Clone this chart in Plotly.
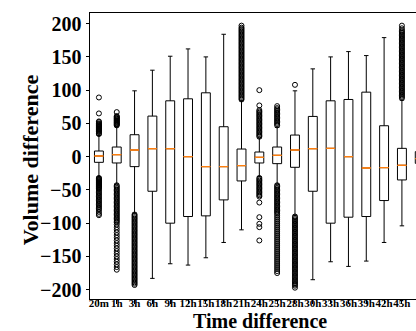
import plotly.graph_objects as go

# ---------------- data ----------------
categories = ["20m", "1h", "3h", "6h", "9h", "12h", "15h", "18h", "21h", "24h",
              "25h", "28h", "30h", "33h", "36h", "39h", "42h", "45h", "48h"]

q1_vals     = [-8.5, -9.5, -15, -52, -100, -90, -89, -65, -36.5, -9.5,
               -10.5, -16, -52, -100, -91, -90, -66, -35, -10]
median_vals = [1, 3, 10, 12, 12, 0, -15, -15, -13.5, -1,
               2, 10, 12, 12.5, 0, -17, -16.5, -13, -3]
q3_vals     = [8.5, 14.5, 33, 61, 84, 87, 96, 45, 11.5, 7,
               14.5, 32.5, 60.5, 84, 86, 97, 46.5, 12.5, 7.5]
whisker_lo  = [-30, -41, -85, -183, -161, -163, -152, -129, -110, -30,
               -41, -88, -185, -158, -165, -157, -129, -104, -30]
whisker_hi  = [32, 45, 99, 130, 151, 162, 150, 184, 84, 28,
               44, 99, 132, 150, 158, 152, 179, 85, 28]

# outliers (fliers) per category
fliers_20m = [89, 65, 53, 52, 50, 49, 48, 47, 46, 45, 44, 43, 42, 41, 40, 39, 38, 37, 35, 34,
              -32, -33, -34, -35, -36, -37, -38, -39, -40, -41, -42, -43, -44, -45, -46, -47,
              -48, -50, -52, -54, -56, -58, -60, -62, -64, -66, -68, -70, -72, -74, -76, -78,
              -80, -83, -86, -88]
fliers_1h = [67, 61, 60, 59, 58, 57, 56, 55, 54, 53, 52, 51, 50, 49, 48, 47,
             -43, -45, -47, -49, -51, -53, -55, -57, -59, -61, -63, -65, -67, -69, -71, -73,
             -75, -77, -79, -81, -83, -85, -87, -89, -91, -93, -95, -97, -99, -102, -106,
             -110, -114, -118, -122, -126, -130, -134, -138, -142, -146, -150, -154, -158,
             -162, -166, -170]
fliers_3h = [-87, -89, -91, -93, -95, -97, -99, -101, -103, -105, -107, -109, -111, -113,
             -115, -117, -119, -121, -123, -125, -127, -129, -131, -133, -135, -137, -139,
             -141, -143, -145, -147, -149, -151, -153, -155, -157, -159, -161, -163, -165,
             -167, -169, -171, -173, -175, -177, -179, -181, -183, -185, -187, -189, -191, -193]
fliers_21h = [86, 88, 90, 92, 94, 96, 98, 100, 102, 104, 106, 108, 110, 112, 114, 116, 118,
              120, 122, 124, 126, 128, 130, 132, 134, 136, 138, 140, 142, 144, 146, 148, 150,
              152, 154, 156, 158, 160, 162, 164, 166, 168, 170, 172, 174, 176, 178, 180, 182,
              184, 186, 188, 190, 192, 194, 197]
fliers_24h = [100, 77, 70, 68, 66, 64, 62, 60, 58, 56, 54, 52, 50, 48, 46, 44, 42, 40, 38,
              36, 34, 32, 30,
              -32, -34, -36, -38, -40, -42, -44, -46, -48, -50, -52, -54, -56, -58, -60,
              -69, -91, -101, -106, -126]
fliers_25h = [76, 73, 71, 69, 67, 65, 63, 61, 59, 57, 55, 53, 51, 49, 47,
              -43, -45, -47, -49, -51, -53, -55, -57, -59, -61, -63, -65, -67, -69, -71, -73,
              -75, -77, -79, -81, -83, -85, -88, -91, -94, -97, -100, -103, -106, -109, -112,
              -115, -118, -121, -124, -127, -130, -133, -136, -139, -142, -145, -148, -151,
              -154, -157, -160, -163, -166, -169, -172, -175]
fliers_28h = [108,
              -90, -92, -94, -96, -98, -100, -102, -104, -106, -108, -110, -112, -114, -116,
              -118, -120, -122, -124, -126, -128, -130, -132, -134, -136, -138, -140, -142,
              -144, -146, -148, -150, -152, -154, -156, -158, -160, -162, -164, -166, -168,
              -170, -172, -174, -176, -178, -180, -182, -184, -186, -188, -190, -192, -194, -197]
fliers_45h = [197, 193, 190, 188, 186, 184, 182, 180, 178, 176, 174, 172, 170, 168, 166, 164,
              162, 160, 158, 156, 154, 152, 150, 148, 146, 144, 142, 140, 138, 136, 134, 132,
              130, 128, 126, 124, 122, 120, 118, 116, 114, 112, 110, 108, 106, 104, 102, 100,
              98, 96, 94, 92, 90, 88]

fliers = {"20m": fliers_20m, "1h": fliers_1h, "3h": fliers_3h, "21h": fliers_21h,
          "24h": fliers_24h, "25h": fliers_25h, "28h": fliers_28h, "45h": fliers_45h}

# ---------------- figure ----------------
FONT = "Times New Roman, Liberation Serif, serif"
fig = go.Figure()

fig.add_trace(go.Box(
    x=categories, q1=q1_vals, median=median_vals, q3=q3_vals,
    lowerfence=whisker_lo, upperfence=whisker_hi,
    width=0.5, whiskerwidth=0.5,
    line=dict(color="black", width=1), fillcolor="rgba(0,0,0,0)",
    boxpoints=False, showlegend=False, hoverinfo="skip"))

# orange median lines (degenerate boxes at the median)
fig.add_trace(go.Box(
    x=categories, q1=median_vals, median=median_vals, q3=median_vals,
    lowerfence=median_vals, upperfence=median_vals,
    width=0.5, whiskerwidth=0,
    line=dict(color="#ff7f0e", width=1), fillcolor="rgba(0,0,0,0)",
    boxpoints=False, showlegend=False, hoverinfo="skip"))

fx, fy = [], []
for cat, vals in fliers.items():
    fx += [cat] * len(vals)
    fy += vals
fig.add_trace(go.Scatter(
    x=fx, y=fy, mode="markers",
    marker=dict(symbol="circle-open", size=5, color="black", line=dict(width=1)),
    showlegend=False, hoverinfo="skip"))

fig.update_layout(
    width=416, height=331,
    margin=dict(l=90, r=0, t=13, b=32),
    paper_bgcolor="white", plot_bgcolor="white",
    boxmode="overlay",
    font=dict(family=FONT, color="black"),
    showlegend=False,
)
fig.update_xaxes(
    type="category", categoryorder="array", categoryarray=categories,
    range=[-0.5, 17.79], automargin=False, tickangle=0,
    showline=True, linecolor="black", linewidth=1, mirror=True,
    ticks="outside", ticklen=3.5, tickwidth=1, tickcolor="black",
    ticklabelstandoff=-10,
    tickfont=dict(family=FONT, size=11, weight="bold", color="black"),
    showgrid=False, zeroline=False,
)
fig.update_yaxes(
    range=[-214, 216], tickvals=[-200, -150, -100, -50, 0, 50, 100, 150, 200],
    automargin=False,
    showline=True, linecolor="black", linewidth=1, mirror=False,
    ticks="outside", ticklen=3.5, tickwidth=1, tickcolor="black",
    tickfont=dict(family=FONT, size=20, weight="bold", color="black"),
    showgrid=False, zeroline=False,
)
fig.add_annotation(text="Time difference", xref="paper", yref="paper",
                   x=0.521, y=0, yshift=-22, xanchor="center", yanchor="middle",
                   showarrow=False,
                   font=dict(family=FONT, size=20, weight="bold", color="black"))
fig.add_annotation(text="Volume difference", xref="paper", yref="paper",
                   x=0, xshift=-60, y=0.485, xanchor="center", yanchor="middle",
                   textangle=-90, showarrow=False,
                   font=dict(family=FONT, size=22, weight="bold", color="black"))

fig.write_html("out.html", config={"displayModeBar": False},
               post_script="document.body.style.margin='0';document.body.style.overflow='hidden';")
